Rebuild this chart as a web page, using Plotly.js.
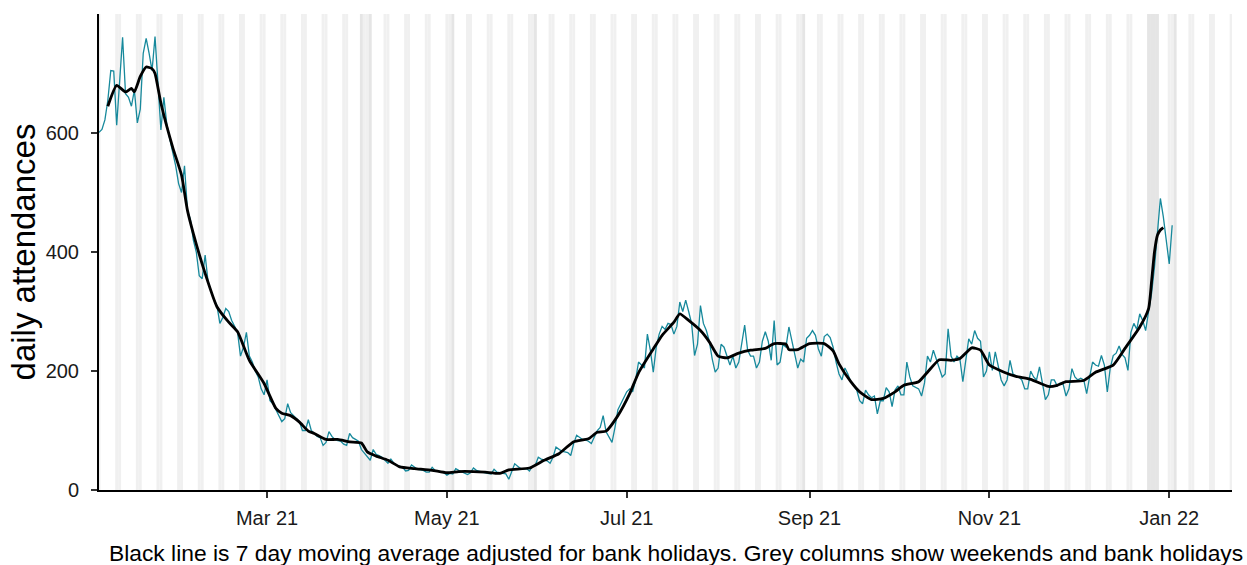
<!DOCTYPE html>
<html>
<head>
<meta charset="utf-8">
<script src="https://cdn.plot.ly/plotly-3.0.1.min.js"></script>
<style>
  html, body { margin: 0; padding: 0; background: #ffffff; }
  #chart { width: 1247px; height: 565px; }
</style>
</head>
<body>
<div id="chart"></div>
<script>
// ---------------- DATA ----------------
// daily attendances, one value per day starting on startDate
const startDate = '2021-01-03';
const dailyAttendances = [
  601, 606, 622, 655, 705, 704, 613,
  690, 761, 666, 660, 645, 672, 617,
  640, 734, 759, 734, 705, 762, 677,
  605, 660, 615, 590, 570, 545, 515,
  500, 545, 470, 455, 420, 400, 360,
  355, 395, 350, 335, 320, 310, 280,
  290, 305, 300, 285, 275, 265, 225,
  240, 265, 225, 215, 200, 190, 170,
  160, 185, 150, 145, 135, 125, 115,
  120, 145, 130, 125, 120, 115, 100,
  100, 118, 100, 95, 90, 88, 75,
  80, 98, 90, 85, 83, 82, 77,
  75, 95, 88, 85, 82, 68, 62,
  55, 50, 68, 60, 58, 55, 50,
  45, 52, 45, 42, 40, 38, 32,
  33, 42, 38, 35, 34, 33, 30,
  30, 38, 33, 32, 30, 29, 25,
  28, 27, 36, 33, 31, 29, 26,
  29, 37, 33, 31, 30, 29, 28,
  27, 35, 30, 29, 28, 27, 18,
  30, 44, 40, 36, 35, 36, 32,
  40, 42, 55, 52, 50, 49, 45,
  55, 72, 68, 65, 64, 63, 58,
  78, 92, 88, 85, 84, 82, 78,
  90, 100, 105, 125, 98, 90, 80,
  105, 135, 145, 155, 165, 170, 165,
  185, 215, 210, 205, 262, 235, 198,
  240, 262, 275, 270, 280, 278, 262,
  275, 316, 300, 319, 300, 280, 226,
  245, 310, 280, 268, 250, 220, 198,
  205, 245, 240, 225, 210, 225, 205,
  215, 250, 277, 235, 225, 225, 205,
  215, 250, 266, 250, 218, 285, 210,
  215, 245, 240, 274, 250, 230, 205,
  220, 215, 255, 260, 268, 260, 237,
  225, 258, 262, 256, 240, 215, 195,
  185, 205, 195, 182, 175, 168, 150,
  145, 168, 160, 155, 158, 128, 150,
  150, 172, 165, 140, 168, 175, 160,
  160, 215, 190, 175, 172, 170, 158,
  180, 225, 215, 235, 220, 205, 190,
  195, 271, 225, 215, 225, 220, 182,
  215, 254, 245, 268, 255, 250, 190,
  200, 232, 201, 232, 210, 185, 175,
  185, 218, 195, 192, 190, 185, 170,
  170, 200, 190, 185, 207, 178, 152,
  160, 185, 185, 175, 180, 178, 158,
  170, 204, 190, 185, 188, 185, 162,
  190, 215, 210, 208, 226, 210, 165,
  205, 226, 230, 242, 228, 222, 201,
  265, 280, 270, 296, 285, 268, 300,
  330, 375, 440, 490, 459, 420, 380,
  445
];

// 7 day moving average (adjusted for bank holidays)
const maDates = [
  '2021-01-06','2021-01-09','2021-01-12','2021-01-14','2021-01-15','2021-01-17','2021-01-19','2021-01-21',
  '2021-01-22','2021-01-24','2021-01-28','2021-01-31','2021-02-02','2021-02-04','2021-02-08','2021-02-12',
  '2021-02-16','2021-02-19','2021-02-23','2021-02-28','2021-03-04','2021-03-06','2021-03-09','2021-03-12',
  '2021-03-15','2021-03-17','2021-03-21','2021-03-25','2021-03-29','2021-04-02','2021-04-04','2021-04-07',
  '2021-04-11','2021-04-15','2021-04-20','2021-04-26','2021-05-01','2021-05-05','2021-05-10','2021-05-14',
  '2021-05-19','2021-05-22','2021-05-29','2021-06-03','2021-06-08','2021-06-13','2021-06-18','2021-06-21',
  '2021-06-24','2021-06-28','2021-07-02','2021-07-05','2021-07-10','2021-07-13','2021-07-17','2021-07-19',
  '2021-07-22','2021-07-26','2021-07-29','2021-08-01','2021-08-04','2021-08-08','2021-08-12','2021-08-17',
  '2021-08-20','2021-08-24','2021-08-25','2021-08-28','2021-09-01','2021-09-06','2021-09-09','2021-09-11',
  '2021-09-15','2021-09-18','2021-09-22','2021-09-26','2021-09-30','2021-10-03','2021-10-08','2021-10-11',
  '2021-10-15','2021-10-19','2021-10-22','2021-10-26','2021-10-29','2021-11-01','2021-11-06','2021-11-10',
  '2021-11-15','2021-11-21','2021-11-24','2021-11-27','2021-12-03','2021-12-07','2021-12-13','2021-12-17',
  '2021-12-22','2021-12-25','2021-12-26','2021-12-27','2021-12-28','2021-12-29','2021-12-30'
];
const maValues = [
  645, 680, 669, 675, 669, 695, 711, 708,
  700, 650, 576, 529, 470, 431, 364, 308,
  282, 266, 218, 179, 137, 129, 125, 114,
  99, 95, 85, 85, 81, 79, 64, 57,
  50, 39, 36, 33, 29, 31, 31, 30,
  28, 34, 37, 50, 61, 81, 86, 97,
  99, 125, 162, 197, 237, 260, 282, 296,
  285, 268, 249, 225, 222, 230, 235, 238,
  246, 245, 236, 236, 246, 246, 234, 212,
  182, 165, 152, 154, 165, 176, 182, 198,
  219, 218, 221, 239, 235, 210, 198, 191,
  186, 174, 176, 182, 184, 198, 210, 238,
  274, 305, 350, 400, 428, 437, 441
];

const bankHolidays = [
  '2021-01-01','2021-04-02','2021-04-05','2021-05-03','2021-05-31','2021-08-30',
  '2021-12-25','2021-12-26','2021-12-27','2021-12-28','2022-01-03'
];

const yTickValues = [0, 200, 400, 600];
const yTitle = 'daily attendances';
const captionText = 'Black line is 7 day moving average adjusted for bank holidays. Grey columns show weekends and bank holidays';

// ---------------- HELPERS ----------------
function addDays(iso, n) {
  const d = new Date(iso + 'T00:00:00Z');
  d.setUTCDate(d.getUTCDate() + n);
  return d.toISOString().slice(0, 10);
}
const dailyDates = dailyAttendances.map((_, i) => addDays(startDate, i));

// grey columns for weekends and bank holidays
const shapes = [];
let cur = '2020-12-30';
const endShade = '2022-01-25';
while (cur <= endShade) {
  const dow = new Date(cur + 'T00:00:00Z').getUTCDay();
  const isHol = bankHolidays.indexOf(cur) >= 0;
  const isWe = (dow === 0 || dow === 6);
  if (isHol || isWe) {
    shapes.push({
      type: 'rect', xref: 'x', yref: 'paper',
      x0: addDays(cur, -1) + ' 12:00', x1: cur + ' 12:00',
      y0: 0, y1: 1,
      fillcolor: isHol ? '#e5e5e5' : '#f0f0f0',
      line: { width: 0 }, layer: 'below'
    });
  }
  cur = addDays(cur, 1);
}

const FONT = 'Liberation Sans, Arial, Helvetica, sans-serif';

const traces = [
  {
    type: 'scatter', mode: 'lines', name: 'daily',
    x: dailyDates, y: dailyAttendances,
    line: { color: '#17899c', width: 1.3 },
    hoverinfo: 'x+y'
  },
  {
    type: 'scatter', mode: 'lines', name: '7 day average',
    x: maDates, y: maValues,
    line: { color: '#000000', width: 2.8, shape: 'spline', smoothing: 0.5 },
    hoverinfo: 'x+y'
  }
];

const layout = {
  width: 1247, height: 565,
  margin: { l: 99, r: 15, t: 14, b: 75 },
  paper_bgcolor: '#ffffff', plot_bgcolor: '#ffffff',
  showlegend: false,
  font: { family: FONT, color: '#000000' },
  xaxis: {
    type: 'date',
    range: ['2021-01-03', '2022-01-22 07:00'],
    tick0: '2021-03-01', dtick: 'M2', tickformat: '%b %y',
    showgrid: false, zeroline: false,
    showline: true, linecolor: '#000000', linewidth: 2,
    ticks: 'outside', ticklen: 6, tickwidth: 2, tickcolor: '#333333',
    tickfont: { size: 20, color: '#1a1a1a', family: FONT },
    ticklabelstandoff: 3
  },
  yaxis: {
    range: [0, 800],
    tickvals: yTickValues,
    showgrid: false, zeroline: false,
    showline: true, linecolor: '#000000', linewidth: 2,
    ticks: 'outside', ticklen: 6, tickwidth: 2, tickcolor: '#333333',
    tickfont: { size: 20, color: '#1a1a1a', family: FONT },
    ticklabelstandoff: 8,
    title: { text: yTitle, font: { size: 33, color: '#000000', family: FONT }, standoff: 0 }
  },
  shapes: shapes,
  annotations: [
    {
      text: captionText, xref: 'paper', yref: 'paper',
      x: 1.0115, y: -0.132, xanchor: 'right', yanchor: 'middle',
      showarrow: false,
      font: { size: 22.8, color: '#000000', family: FONT }
    }
  ]
};

Plotly.newPlot('chart', traces, layout, { displayModeBar: false, staticPlot: true });
</script>
</body>
</html>
